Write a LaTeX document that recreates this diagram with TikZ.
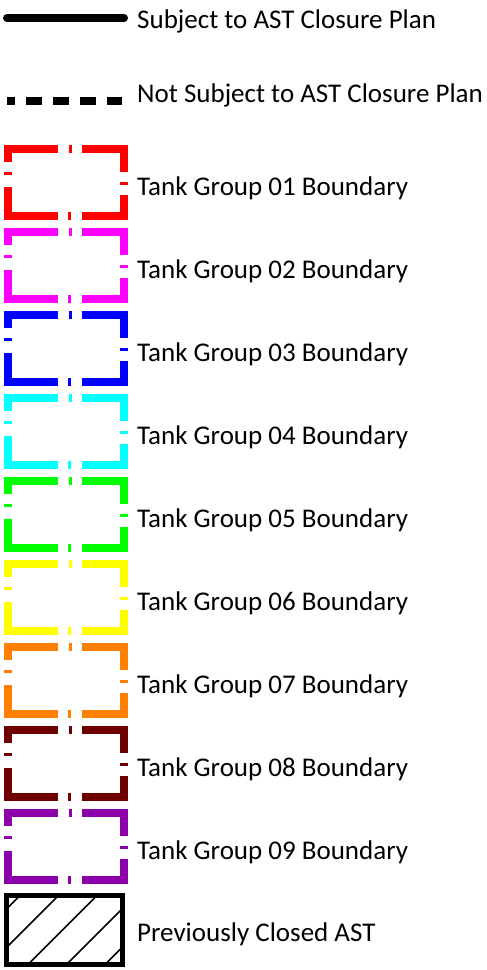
\documentclass[tikz,border=0pt]{standalone}
\usepackage{fontspec}
\setmainfont{Carlito}

\definecolor{tgred}{RGB}{255,0,0}
\definecolor{tgmagenta}{RGB}{255,0,255}
\definecolor{tgblue}{RGB}{0,0,255}
\definecolor{tgcyan}{RGB}{0,255,255}
\definecolor{tggreen}{RGB}{0,255,0}
\definecolor{tgyellow}{RGB}{255,255,0}
\definecolor{tgorange}{RGB}{255,128,0}
\definecolor{tgmaroon}{RGB}{110,0,0}
\definecolor{tgpurple}{RGB}{140,0,170}

\tikzset{
  legendtext/.style={anchor=base west,inner sep=0pt,font=\fontsize{27}{31}\selectfont},
  tankline/.style={line width=8pt,
    dash pattern=on 28pt off 10.5pt on 3pt off 10.5pt on 64.5pt off 10pt on 3pt off 10pt
      on 62.5pt off 11pt on 3pt off 10pt on 79.5pt off 12pt on 3pt off 10pt on 35.5pt off 10pt},
}

\begin{document}
\begin{tikzpicture}[x=1pt,y=-1pt]
  \useasboundingbox (0,0) rectangle (487,970);

  % line styles
  \draw[line width=8pt,line cap=round] (7,18) -- (124,18);
  \node[legendtext] (subj) at (137,28) {Subject to AST Closure Plan};
  \draw[line width=8pt,dash pattern=on 16pt off 11pt,dash phase=8pt] (7,101) -- (122,101);
  \node[legendtext] (notsubj) at (137,102) {Not Subject to AST Closure Plan};

  % tank group boundaries
  \foreach \col [count=\i] in {tgred,tgmagenta,tgblue,tgcyan,tggreen,tgyellow,tgorange,tgmaroon,tgpurple} {
    \pgfmathsetmacro\ty{149+83*(\i-1)}
    \draw[tankline,\col] (30,\ty) -- (123.5,\ty) -- (123.5,\ty+67) -- (7.5,\ty+67) -- (7.5,\ty) -- cycle;
    \node[legendtext] (grp\i) at (137,\ty+46) {Tank Group 0\i\ Boundary};
  }

  % closed tanks
  \begin{scope}
    \clip (6.5,895.5) rectangle (122.5,964.5);
    \foreach \c in {915.5,954,...,1070}
      \draw[line width=1.5pt] (\c-1000,1000) -- (\c-860,860);
  \end{scope}
  \draw[line width=5pt] (6.5,895.5) rectangle (122.5,964.5);
  \node[legendtext] (closed) at (137,941) {Previously Closed AST};
\end{tikzpicture}
\end{document}
